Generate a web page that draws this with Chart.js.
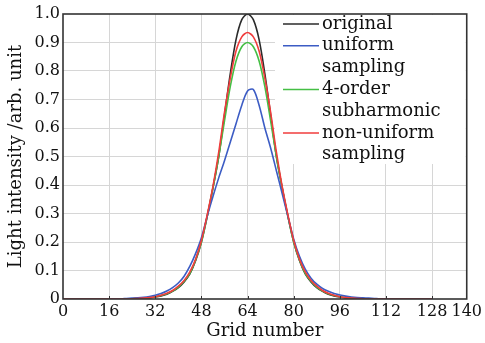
<!DOCTYPE html>
<html>
<head>
<meta charset="utf-8">
<script src="https://cdn.jsdelivr.net/npm/chart.js@4.4.0/dist/chart.umd.min.js"></script>
<style>
  html, body { margin: 0; padding: 0; background: #fff; }
  #wrap { width: 485px; height: 343px; }
</style>
</head>
<body>
<div id="wrap"><canvas id="profile"></canvas></div>
<script>
// grid positions (x) and light intensity of each curve
var gridX = [0, 2, 4, 6, 8, 10, 12, 14, 16, 18, 20, 22, 24, 26, 28, 30, 32, 34, 36, 38,
  40, 42, 44, 46, 48, 50, 52, 54, 56, 58, 60, 62, 64, 66, 68, 70, 72, 74, 76, 78,
  80, 82, 84, 86, 88, 90, 92, 94, 96, 98, 100, 102, 104, 106, 108, 110, 112, 114, 116, 118,
  120, 122, 124, 126, 128];

var original = [0, 0, 0, 0, 0, 0, 0, 0, 0, 0, 0, 0, 0.001, 0.002, 0.003, 0.004, 0.007, 0.011, 0.017, 0.027,
  0.04, 0.06, 0.088, 0.135, 0.20, 0.29, 0.39, 0.50, 0.645, 0.79, 0.91, 0.98, 1.0, 0.98, 0.91, 0.79, 0.645, 0.50, 0.39, 0.29,
  0.20, 0.135, 0.088, 0.06, 0.04, 0.027, 0.017, 0.011, 0.007, 0.004, 0.003, 0.002, 0.001, 0, 0, 0, 0, 0, 0, 0,
  0, 0, 0, 0, 0];

var uniform = [0, 0, 0, 0, 0, 0, 0, 0, 0, 0.001, 0.001, 0.002, 0.003, 0.004, 0.006, 0.009, 0.013, 0.019, 0.028, 0.04,
  0.056, 0.08, 0.115, 0.16, 0.215, 0.29, 0.36, 0.425, 0.485, 0.55, 0.615, 0.68, 0.73, 0.735, 0.68, 0.60, 0.53, 0.45, 0.37, 0.29,
  0.21, 0.15, 0.105, 0.073, 0.052, 0.037, 0.027, 0.019, 0.014, 0.010, 0.007, 0.005, 0.004, 0.003, 0.002, 0.001, 0.001, 0, 0, 0,
  0, 0, 0, 0, 0];

var subharmonic = [0, 0, 0, 0, 0, 0, 0, 0, 0, 0, 0, 0, 0.001, 0.002, 0.003, 0.005, 0.008, 0.012, 0.018, 0.028,
  0.042, 0.062, 0.09, 0.137, 0.20, 0.29, 0.39, 0.50, 0.625, 0.745, 0.835, 0.885, 0.90, 0.885, 0.835, 0.745, 0.625, 0.50, 0.39, 0.29,
  0.20, 0.137, 0.09, 0.062, 0.042, 0.028, 0.018, 0.012, 0.008, 0.005, 0.003, 0.002, 0.001, 0, 0, 0, 0, 0, 0, 0,
  0, 0, 0, 0, 0];

var nonUniform = [0, 0, 0, 0, 0, 0, 0, 0, 0, 0, 0, 0, 0.001, 0.002, 0.003, 0.005, 0.008, 0.013, 0.02, 0.03,
  0.045, 0.065, 0.095, 0.14, 0.205, 0.295, 0.395, 0.515, 0.655, 0.775, 0.87, 0.92, 0.935, 0.92, 0.87, 0.775, 0.655, 0.515, 0.395, 0.295,
  0.205, 0.14, 0.095, 0.065, 0.045, 0.03, 0.02, 0.013, 0.008, 0.005, 0.003, 0.002, 0.001, 0, 0, 0, 0, 0, 0, 0,
  0, 0, 0, 0, 0];

var xTicks = [0, 16, 32, 48, 64, 80, 96, 112, 128, 140];
var yTicks = [0, 0.1, 0.2, 0.3, 0.4, 0.5, 0.6, 0.7, 0.8, 0.9, 1.0];

var legendLines = [
  ["original"],
  ["uniform", "sampling"],
  ["4-order", "subharmonic"],
  ["non-uniform", "sampling"]
];

var serif = "'DejaVu Serif', serif";

function toPoints(values) {
  return values.map(function (v, i) { return { x: gridX[i], y: v }; });
}

// white legend box + entries, drawn under the curves
var legendPlugin = {
  id: "boxLegend",
  beforeDatasetsDraw: function (chart) {
    var ctx = chart.ctx;
    var area = chart.chartArea;
    ctx.save();
    ctx.fillStyle = "#fff";
    ctx.fillRect(275, area.top + 1, area.right - 276, 149);
    ctx.font = "18px " + serif;
    ctx.textBaseline = "middle";
    ctx.fillStyle = "#111";
    var y = 24;
    chart.data.datasets.forEach(function (ds, i) {
      ctx.strokeStyle = ds.borderColor;
      ctx.lineWidth = 1.5;
      ctx.beginPath();
      ctx.moveTo(283, y);
      ctx.lineTo(319, y);
      ctx.stroke();
      legendLines[i].forEach(function (t) {
        ctx.fillText(t, 322, y);
        y += 21.8;
      });
    });
    ctx.restore();
  },
  afterDraw: function (chart) {
    var ctx = chart.ctx;
    var area = chart.chartArea;
    var xs = chart.scales.x;
    ctx.save();
    ctx.strokeStyle = "#333";
    ctx.lineWidth = 1.6;
    ctx.strokeRect(area.left, area.top, area.right - area.left, area.bottom - area.top);
    ctx.lineWidth = 1;
    ctx.beginPath();
    xTicks.slice(1, -1).forEach(function (v) {
      var px = Math.round(xs.getPixelForValue(v)) + 0.5;
      ctx.moveTo(px, area.bottom);
      ctx.lineTo(px, area.bottom - 3);
    });
    ctx.stroke();
    ctx.restore();
  }
};

new Chart(document.getElementById("profile"), {
  type: "line",
  data: {
    datasets: [
      { label: "original", data: toPoints(original), borderColor: "#2b2b2b", order: 3 },
      { label: "uniform sampling", data: toPoints(uniform), borderColor: "#3c5cc4", order: 1 },
      { label: "4-order subharmonic", data: toPoints(subharmonic), borderColor: "#45bf45", order: 2 },
      { label: "non-uniform sampling", data: toPoints(nonUniform), borderColor: "#f03c3c", order: 0 }
    ]
  },
  options: {
    responsive: true,
    maintainAspectRatio: false,
    animation: false,
    layout: { padding: { top: 14, right: 17, left: 0, bottom: 0 } },
    elements: {
      point: { radius: 0 },
      line: { borderWidth: 1.6, tension: 0.3, fill: false }
    },
    plugins: {
      legend: { display: false },
      tooltip: { enabled: false }
    },
    scales: {
      x: {
        type: "linear",
        min: 0,
        max: 140,
        afterBuildTicks: function (scale) {
          scale.ticks = xTicks.map(function (v) { return { value: v }; });
        },
        afterFit: function (scale) { scale.height = 44; },
        grid: {
          drawTicks: false,
          color: function (c) {
            return c.tick && (c.tick.value === 0 || c.tick.value === 140) ? "transparent" : "#d6d6d6";
          }
        },
        border: { display: false },
        ticks: {
          font: { family: serif, size: 16 },
          color: "#111",
          padding: 3,
          maxRotation: 0,
          autoSkip: false
        },
        title: {
          display: true,
          text: "Grid number",
          font: { family: serif, size: 18 },
          color: "#111",
          padding: { top: 0, bottom: 1 }
        }
      },
      y: {
        min: 0,
        max: 1,
        afterBuildTicks: function (scale) {
          scale.ticks = yTicks.map(function (v) { return { value: v }; });
        },
        afterFit: function (scale) { scale.width = 63; },
        grid: {
          drawTicks: false,
          color: function (c) {
            return c.tick && (c.tick.value === 0 || c.tick.value === 1) ? "transparent" : "#d6d6d6";
          }
        },
        border: { display: false },
        ticks: {
          font: { family: serif, size: 16 },
          color: "#111",
          padding: 3,
          callback: function (v) { return v === 0 ? "0" : v.toFixed(1); }
        },
        title: {
          display: true,
          text: "Light intensity /arb. unit",
          font: { family: serif, size: 18 },
          color: "#111",
          padding: { top: 6, bottom: 0 }
        }
      }
    }
  },
  plugins: [legendPlugin]
});
</script>
</body>
</html>
